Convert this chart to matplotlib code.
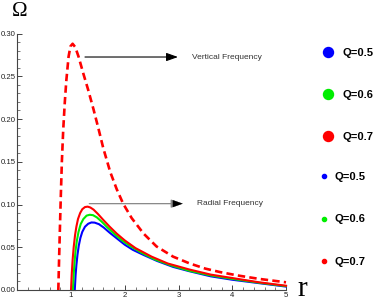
import matplotlib
matplotlib.use('Agg')
import matplotlib.pyplot as plt
from matplotlib.lines import Line2D
from matplotlib import font_manager
from matplotlib.ticker import MultipleLocator, FormatStrFormatter

# pick a narrow sans if one is installed
names = {f.name for f in font_manager.fontManager.ttflist}
narrow = next((n for n in ['Liberation Sans Narrow', 'DejaVu Sans Condensed'] if n in names), 'Liberation Sans')

# vertical frequency, Q=0.7 (dashed)
r_vert = [0.764, 0.78, 0.795, 0.81, 0.83, 0.855, 0.885, 0.913, 0.955, 0.99, 1.03, 1.08, 1.14, 1.23, 1.32,
          1.42, 1.51, 1.60, 1.73, 1.85, 1.97, 2.13, 2.35, 2.59, 2.90, 3.21, 3.50, 3.77, 4.10, 4.50, 5.00]
om_vert = [0.000, 0.040, 0.075, 0.109, 0.150, 0.187, 0.220, 0.245, 0.273, 0.285, 0.288, 0.284, 0.273, 0.253, 0.234,
           0.211, 0.189, 0.166, 0.138, 0.118, 0.101, 0.084, 0.066, 0.051, 0.039, 0.031, 0.025, 0.021, 0.017, 0.013, 0.009]

# radial frequency for Q = 0.5, 0.6, 0.7
r_rad_05 = [1.07, 1.085, 1.10, 1.12, 1.145, 1.175, 1.21, 1.26, 1.32, 1.38, 1.44, 1.52, 1.61, 1.72, 1.85,
            2.00, 2.15, 2.35, 2.60, 2.90, 3.20, 3.60, 4.00, 4.50, 5.00]
om_rad_05 = [0.000, 0.017, 0.029, 0.041, 0.052, 0.061, 0.068, 0.074, 0.0775, 0.079, 0.0788, 0.077, 0.073, 0.0670, 0.0605,
             0.053, 0.047, 0.041, 0.034, 0.027, 0.022, 0.016, 0.012, 0.008, 0.004]
r_rad_06 = [1.035, 1.05, 1.065, 1.085, 1.11, 1.14, 1.18, 1.23, 1.29, 1.35, 1.41, 1.48, 1.57, 1.68, 1.80,
            1.95, 2.10, 2.30, 2.55, 2.85, 3.20, 3.60, 4.00, 4.50, 5.00]
om_rad_06 = [0.000, 0.018, 0.032, 0.046, 0.058, 0.068, 0.077, 0.083, 0.087, 0.088, 0.0875, 0.085, 0.080, 0.073, 0.066,
             0.058, 0.0515, 0.044, 0.036, 0.029, 0.0225, 0.017, 0.013, 0.0085, 0.0045]
r_rad_07 = [1.00, 1.015, 1.03, 1.05, 1.075, 1.10, 1.13, 1.17, 1.21, 1.26, 1.31, 1.36, 1.42, 1.50, 1.60,
            1.72, 1.85, 2.00, 2.20, 2.50, 2.80, 3.20, 3.60, 4.00, 4.50, 5.00]
om_rad_07 = [0.000, 0.020, 0.035, 0.050, 0.064, 0.074, 0.083, 0.090, 0.0945, 0.097, 0.0975, 0.0965, 0.094, 0.089, 0.082,
             0.074, 0.066, 0.058, 0.049, 0.039, 0.031, 0.024, 0.018, 0.014, 0.009, 0.005]

q_labels = ['Q=0.5', 'Q=0.6', 'Q=0.7']
q_colors = ['#0000ff', '#00ee00', '#ff0000']

fig = plt.figure(figsize=(3.74, 3.05), dpi=100)
ax = fig.add_axes([17.25 / 374, 15 / 305, (286 - 17.25) / 374, (290 - 33.5) / 305])

ax.plot(r_rad_05, om_rad_05, color=q_colors[0], lw=1.5, clip_on=False, solid_joinstyle='round')
ax.plot(r_rad_06, om_rad_06, color=q_colors[1], lw=1.5, clip_on=False, solid_joinstyle='round')
ax.plot(r_rad_07, om_rad_07, color=q_colors[2], lw=1.5, clip_on=False, solid_joinstyle='round')
ax.plot(r_vert, om_vert, color=q_colors[2], lw=1.9, dashes=(2.8, 1.6), clip_on=False)

ax.set_xlim(0, 5)
ax.set_ylim(0, 0.30)
ax.spines[['top', 'right']].set_visible(False)
for s in ['left', 'bottom']:
    ax.spines[s].set_color('#444444')
    ax.spines[s].set_linewidth(0.8)

ax.set_xticks([1, 2, 3, 4, 5])
ax.set_yticks([0.00, 0.05, 0.10, 0.15, 0.20, 0.25, 0.30])
ax.yaxis.set_major_formatter(FormatStrFormatter('%.2f'))
ax.xaxis.set_minor_locator(MultipleLocator(0.2))
ax.yaxis.set_minor_locator(MultipleLocator(0.01))
ax.tick_params(which='major', direction='in', length=3.5, width=0.7, color='#444444',
               labelsize=5.6, labelcolor='#222222', pad=1.2)
ax.tick_params(which='minor', direction='in', length=2, width=0.5, color='#444444')
for lab in ax.get_xticklabels() + ax.get_yticklabels():
    lab.set_fontfamily(narrow)

# axis labels
fig.text(12 / 374, 1 - 12 / 305, 'Ω', fontsize=15, family='Liberation Serif', va='center', ha='left')
fig.text(297 / 374, 1 - 289 / 305, 'r', fontsize=21, family='Liberation Serif', va='center', ha='left')

# annotations
head = '-|>,head_length=0.7,head_width=0.25'
ax.annotate('', xy=(2.99, 0.2725), xytext=(1.26, 0.2725),
            arrowprops=dict(arrowstyle=head, color='black', lw=0.8, shrinkA=0, shrinkB=0))
ax.text(3.26, 0.2725, 'Vertical Frequency', fontsize=6, family=narrow, color='#333333', va='center')
ax.annotate('', xy=(3.08, 0.101), xytext=(1.34, 0.101),
            arrowprops=dict(arrowstyle=head, color='#888888', lw=0.9, shrinkA=0, shrinkB=0))
ax.annotate('', xy=(3.08, 0.101), xytext=(2.9, 0.101),
            arrowprops=dict(arrowstyle=head, color='black', lw=0.1, shrinkA=0, shrinkB=0))
ax.text(3.34, 0.101, 'Radial Frequency', fontsize=6, family=narrow, color='#333333', va='center')

# legends: big markers then small markers
big = [Line2D([], [], ls='none', marker='o', ms=7.2, color=c) for c in q_colors]
small = [Line2D([], [], ls='none', marker='o', ms=3, color=c) for c in q_colors]
leg_font = dict(family=narrow, weight='bold', size=8)
fig.legend(big, q_labels, loc='center left', bbox_to_anchor=(322 / 374, 1 - 95 / 305),
           frameon=False, prop=leg_font, handlelength=1.0, handletextpad=0.85,
           labelspacing=2.9, borderpad=0, borderaxespad=0)
fig.legend(small, q_labels, loc='center left', bbox_to_anchor=(318 / 374, 1 - 219.5 / 305),
           frameon=False, prop=leg_font, handlelength=1.0, handletextpad=0.5,
           labelspacing=2.95, borderpad=0, borderaxespad=0)

fig.savefig('out.png', dpi=100)
